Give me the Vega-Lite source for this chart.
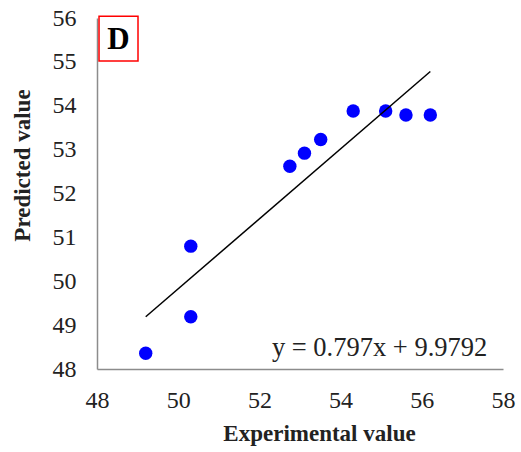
{
  "$schema": "https://vega.github.io/schema/vega-lite/v6.json",
  "width": 406,
  "height": 351,
  "autosize": {"type": "none"},
  "padding": {"left": 97, "top": 18, "right": 18, "bottom": 83},
  "background": "white",
  "config": {"view": {"stroke": null}, "font": "Liberation Serif"},
  "datasets": {
    "points": [
      {"experimental": 49.2, "predicted": 48.36},
      {"experimental": 50.31, "predicted": 49.19},
      {"experimental": 50.31, "predicted": 50.8},
      {"experimental": 52.75, "predicted": 52.62},
      {"experimental": 53.11, "predicted": 52.92},
      {"experimental": 53.51, "predicted": 53.23},
      {"experimental": 54.31, "predicted": 53.88},
      {"experimental": 55.11, "predicted": 53.88},
      {"experimental": 55.61, "predicted": 53.79},
      {"experimental": 56.21, "predicted": 53.79}
    ],
    "trend": [
      {"experimental": 49.2, "predicted": 49.19},
      {"experimental": 56.21, "predicted": 54.78}
    ]
  },
  "layer": [
    {
      "data": {"name": "points"},
      "mark": {"type": "point", "filled": true, "shape": "circle", "size": 180, "color": "#0000ff", "opacity": 1},
      "encoding": {
        "x": {
          "field": "experimental", "type": "quantitative",
          "scale": {"domain": [48, 58], "nice": false, "zero": false},
          "axis": {
            "title": "Experimental value", "values": [48, 50, 52, 54, 56, 58],
            "grid": false, "ticks": false, "domainColor": "#8c8c8c", "domainWidth": 1.5,
            "labelFont": "Liberation Serif", "labelFontSize": 24, "labelColor": "#222",
            "labelPadding": 19, "labelFlush": false,
            "titleFont": "Liberation Serif", "titleFontSize": 23, "titleFontWeight": "bold",
            "titleColor": "#222", "titlePadding": 10, "titleX": 222
          }
        },
        "y": {
          "field": "predicted", "type": "quantitative",
          "scale": {"domain": [48, 56], "nice": false, "zero": false},
          "axis": {
            "title": "Predicted value", "values": [48, 49, 50, 51, 52, 53, 54, 55, 56],
            "grid": false, "ticks": false, "domainColor": "#8c8c8c", "domainWidth": 1.5,
            "labelFont": "Liberation Serif", "labelFontSize": 24, "labelColor": "#222",
            "labelPadding": 21, "labelFlush": false,
            "titleFont": "Liberation Serif", "titleFontSize": 23, "titleFontWeight": "bold",
            "titleColor": "#222", "titlePadding": 18, "titleY": 147
          }
        }
      }
    },
    {
      "data": {"name": "trend"},
      "mark": {"type": "line", "color": "black", "strokeWidth": 1.5},
      "encoding": {
        "x": {"field": "experimental", "type": "quantitative"},
        "y": {"field": "predicted", "type": "quantitative"}
      }
    },
    {
      "data": {"values": [{"x": 48.05, "x2": 49.01, "y": 56.04, "y2": 55.02}]},
      "mark": {"type": "rect", "fill": "white", "stroke": "#ff0000", "strokeWidth": 1.5, "clip": false},
      "encoding": {
        "x": {"field": "x", "type": "quantitative"},
        "x2": {"field": "x2"},
        "y": {"field": "y", "type": "quantitative"},
        "y2": {"field": "y2"}
      }
    },
    {
      "data": {"values": [{"x": 48.53, "y": 55.5, "label": "D"}]},
      "mark": {"type": "text", "font": "Liberation Serif", "fontSize": 31, "fontWeight": "bold", "color": "black", "align": "center", "baseline": "middle"},
      "encoding": {
        "x": {"field": "x", "type": "quantitative"},
        "y": {"field": "y", "type": "quantitative"},
        "text": {"field": "label"}
      }
    },
    {
      "data": {"values": [{"x": 54.96, "y": 48.48, "label": "y = 0.797x + 9.9792"}]},
      "mark": {"type": "text", "font": "Liberation Serif", "fontSize": 26.5, "color": "#222", "align": "center", "baseline": "middle"},
      "encoding": {
        "x": {"field": "x", "type": "quantitative"},
        "y": {"field": "y", "type": "quantitative"},
        "text": {"field": "label"}
      }
    }
  ]
}
